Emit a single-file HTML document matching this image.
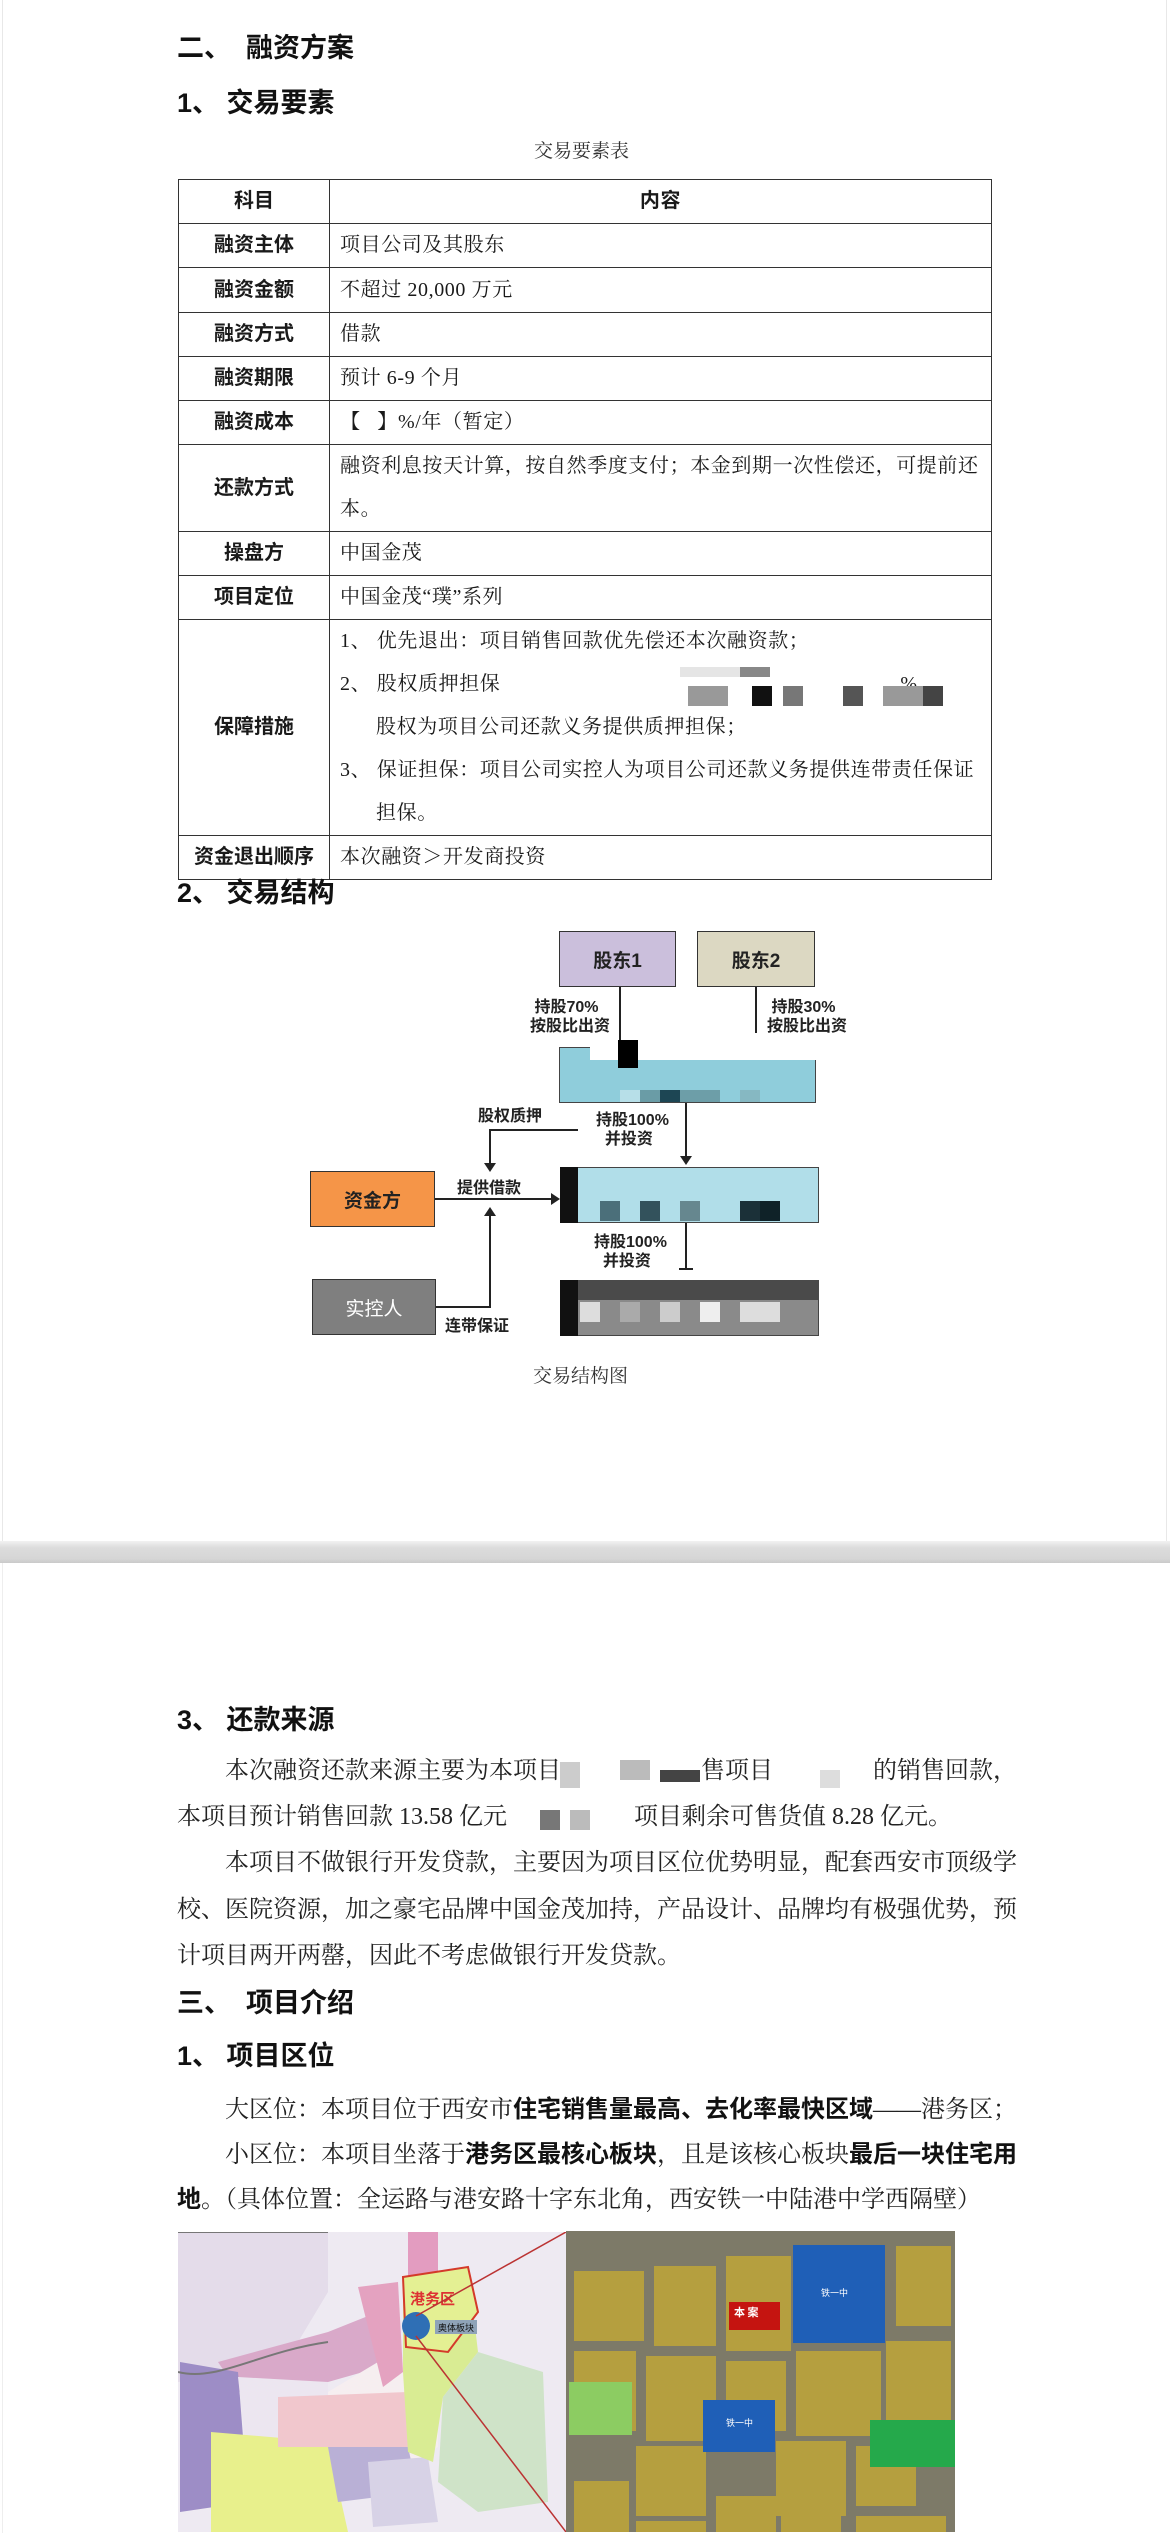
<!DOCTYPE html>
<html><head><meta charset="utf-8">
<style>
*{margin:0;padding:0;box-sizing:border-box}
body{width:1170px;height:2532px;position:relative;background:#fff;overflow:hidden;font-family:"Liberation Serif","Noto Serif CJK SC",serif;color:#1a1a1a}
.a{position:absolute;white-space:nowrap;line-height:32px}
.h{font-family:"Liberation Sans","Noto Sans CJK SC",sans-serif;font-weight:bold;font-size:27px;color:#111}
.p{font-size:24px;color:#222}
.p b{font-family:"Liberation Sans","Noto Sans CJK SC",sans-serif;font-weight:bold;color:#111}
table{position:absolute;left:178px;top:179px;width:814px;border-collapse:collapse}
td{border:1.6px solid #333;font-size:20px;padding:0 10px;line-height:43px;letter-spacing:0.6px;vertical-align:middle}
td.l{width:151px;text-align:center;font-family:"Liberation Sans","Noto Sans CJK SC",sans-serif;font-weight:bold;font-size:20px;padding:0;letter-spacing:0}
.d{font-family:"Liberation Sans","Noto Sans CJK SC",sans-serif;font-weight:bold;font-size:16px;color:#222;line-height:19px;position:absolute;white-space:nowrap}
.box{position:absolute;border:1.5px solid #333;display:flex;align-items:center;justify-content:center;font-family:"Liberation Sans","Noto Sans CJK SC",sans-serif;font-weight:bold;font-size:19px;color:#222}
.px{position:absolute}
</style></head><body>

<div class="a h" style="left:177px;top:32px">二、&nbsp;&nbsp;融资方案</div>
<div class="a h" style="left:177px;top:87px">1、&nbsp;交易要素</div>
<div class="a" style="left:534px;top:136px;font-size:19px;color:#333">交易要素表</div>

<table>
<tr style="height:44px"><td class="l">科目</td><td style="text-align:center;font-family:'Liberation Sans','Noto Sans CJK SC',sans-serif;font-weight:bold">内容</td></tr>
<tr style="height:43px"><td class="l">融资主体</td><td>项目公司及其股东</td></tr>
<tr style="height:45px"><td class="l">融资金额</td><td>不超过 20,000 万元</td></tr>
<tr style="height:43px"><td class="l">融资方式</td><td>借款</td></tr>
<tr style="height:44px"><td class="l">融资期限</td><td>预计 6-9 个月</td></tr>
<tr style="height:44px"><td class="l">融资成本</td><td><b>【&nbsp;&nbsp;&nbsp;】</b>%/年（暂定）</td></tr>
<tr style="height:87px"><td class="l">还款方式</td><td>融资利息按天计算，按自然季度支付；本金到期一次性偿还，可提前还本。</td></tr>
<tr style="height:44px"><td class="l">操盘方</td><td>中国金茂</td></tr>
<tr style="height:44px"><td class="l">项目定位</td><td>中国金茂“璞”系列</td></tr>
<tr style="height:215px"><td class="l">保障措施</td><td style="line-height:43px">1、&nbsp;优先退出：项目销售回款优先偿还本次融资款；<br>2、&nbsp;股权质押担保<span style="display:inline-block;width:400px"></span>%<br><span style="padding-left:36px">股权为项目公司还款义务提供质押担保；</span><br>3、&nbsp;保证担保：项目公司实控人为项目公司还款义务提供连带责任保证<br><span style="padding-left:36px">担保。</span></td></tr>
<tr style="height:43px"><td class="l">资金退出顺序</td><td>本次融资＞开发商投资</td></tr>
</table>
<!-- redaction pixels in table -->
<div class="px" style="left:680px;top:667px;width:60px;height:10px;background:#e5e5e5"></div>
<div class="px" style="left:740px;top:667px;width:30px;height:10px;background:#888"></div>
<div class="px" style="left:688px;top:686px;width:40px;height:20px;background:#999"></div>
<div class="px" style="left:752px;top:686px;width:20px;height:20px;background:#111"></div>
<div class="px" style="left:783px;top:686px;width:20px;height:20px;background:#777"></div>
<div class="px" style="left:843px;top:686px;width:20px;height:20px;background:#555"></div>
<div class="px" style="left:883px;top:686px;width:40px;height:20px;background:#999"></div>
<div class="px" style="left:923px;top:686px;width:20px;height:20px;background:#444"></div>

<div class="a h" style="left:177px;top:877px">2、&nbsp;交易结构</div>

<!-- diagram -->
<div class="box" style="left:559px;top:931px;width:117px;height:56px;background:#cbbfdc">股东1</div>
<div class="box" style="left:697px;top:931px;width:118px;height:56px;background:#dcd8c2">股东2</div>
<div class="px" style="left:619px;top:987px;width:2px;height:60px;background:#222"></div>
<div class="px" style="left:755px;top:987px;width:2px;height:46px;background:#222"></div>
<div class="d" style="left:530px;top:998px">&nbsp;持股70%<br>按股比出资</div>
<div class="d" style="left:767px;top:998px">&nbsp;持股30%<br>按股比出资</div>

<div class="box" style="left:559px;top:1047px;width:257px;height:56px;background:#8fcddb;border-color:#444"></div>
<div class="px" style="left:590px;top:1040px;width:226px;height:20px;background:#fff"></div>
<div class="px" style="left:618px;top:1040px;width:20px;height:28px;background:#000"></div>
<div class="px" style="left:620px;top:1090px;width:20px;height:12px;background:#b7dfe8"></div>
<div class="px" style="left:640px;top:1090px;width:20px;height:12px;background:#6a9ca6"></div>
<div class="px" style="left:660px;top:1090px;width:20px;height:12px;background:#1d4654"></div>
<div class="px" style="left:680px;top:1090px;width:40px;height:12px;background:#6d9ea8"></div>
<div class="px" style="left:740px;top:1090px;width:20px;height:12px;background:#86b8c2"></div>

<div class="px" style="left:685px;top:1103px;width:2px;height:55px;background:#222"></div>
<div class="px" style="left:680px;top:1156px;width:0;height:0;border-left:6px solid transparent;border-right:6px solid transparent;border-top:9px solid #222"></div>
<div class="d" style="left:596px;top:1111px">持股100%<br>&nbsp;&nbsp;并投资</div>
<div class="d" style="left:478px;top:1107px">股权质押</div>
<div class="px" style="left:489px;top:1129px;width:89px;height:2px;background:#222"></div>
<div class="px" style="left:489px;top:1129px;width:2px;height:36px;background:#222"></div>
<div class="px" style="left:484px;top:1163px;border-left:6px solid transparent;border-right:6px solid transparent;border-top:9px solid #222"></div>

<div class="box" style="left:310px;top:1171px;width:125px;height:56px;background:#f59548;color:#222">资金方</div>
<div class="px" style="left:435px;top:1198px;width:118px;height:2px;background:#222"></div>
<div class="px" style="left:551px;top:1193px;border-top:6px solid transparent;border-bottom:6px solid transparent;border-left:9px solid #222"></div>
<div class="d" style="left:457px;top:1179px">提供借款</div>

<div class="box" style="left:560px;top:1167px;width:259px;height:56px;background:#b1dee9;border-color:#444"></div>
<div class="px" style="left:560px;top:1167px;width:18px;height:56px;background:#111"></div>
<div class="px" style="left:600px;top:1201px;width:20px;height:20px;background:#4b6f7a"></div>
<div class="px" style="left:640px;top:1201px;width:20px;height:20px;background:#33525c"></div>
<div class="px" style="left:680px;top:1201px;width:20px;height:20px;background:#66878f"></div>
<div class="px" style="left:740px;top:1201px;width:20px;height:20px;background:#1b3038"></div>
<div class="px" style="left:760px;top:1201px;width:20px;height:20px;background:#0f2228"></div>

<div class="box" style="left:312px;top:1279px;width:124px;height:56px;background:#7f7f7f;color:#fff;font-weight:normal">实控人</div>
<div class="px" style="left:436px;top:1306px;width:55px;height:2px;background:#222"></div>
<div class="px" style="left:489px;top:1214px;width:2px;height:94px;background:#222"></div>
<div class="px" style="left:484px;top:1207px;border-left:6px solid transparent;border-right:6px solid transparent;border-bottom:9px solid #222"></div>
<div class="d" style="left:445px;top:1317px">连带保证</div>

<div class="px" style="left:685px;top:1223px;width:2px;height:46px;background:#222"></div>
<div class="px" style="left:679px;top:1268px;width:14px;height:2px;background:#222"></div>
<div class="d" style="left:594px;top:1233px">持股100%<br>&nbsp;&nbsp;并投资</div>

<div class="box" style="left:560px;top:1280px;width:259px;height:56px;background:#8a8a8a;border-color:#444"></div>
<div class="px" style="left:560px;top:1280px;width:18px;height:56px;background:#111"></div>
<div class="px" style="left:578px;top:1280px;width:241px;height:20px;background:#4a4a4a"></div>
<div class="px" style="left:580px;top:1302px;width:20px;height:20px;background:#ddd"></div>
<div class="px" style="left:620px;top:1302px;width:20px;height:20px;background:#aaa"></div>
<div class="px" style="left:660px;top:1302px;width:20px;height:20px;background:#ccc"></div>
<div class="px" style="left:700px;top:1302px;width:20px;height:20px;background:#eee"></div>
<div class="px" style="left:740px;top:1302px;width:40px;height:20px;background:#ddd"></div>

<div class="a" style="left:533px;top:1361px;font-size:19px;color:#333">交易结构图</div>

<!-- page break -->
<div class="px" style="left:2px;top:0;width:1px;height:1542px;background:#e8e8e8"></div>
<div class="px" style="left:1166px;top:0;width:1px;height:1542px;background:#e8e8e8"></div>
<div class="px" style="left:0;top:1541px;width:1170px;height:22px;background:linear-gradient(#f2f2f2,#dcdcdc 30%,#d6d6d6 80%,#c9c9c9)"></div>
<div class="px" style="left:2px;top:1563px;width:1px;height:970px;background:#eee"></div>

<!-- page 2 -->
<div class="a h" style="left:177px;top:1704px">3、&nbsp;还款来源</div>
<div class="a p" style="left:225px;top:1755px">本次融资还款来源主要为本项目</div>
<div class="px" style="left:560px;top:1762px;width:20px;height:26px;background:#ccc"></div>
<div class="px" style="left:620px;top:1760px;width:30px;height:20px;background:#bbb"></div>
<div class="px" style="left:660px;top:1770px;width:40px;height:12px;background:#444"></div>
<div class="a p" style="left:701px;top:1755px">售项目</div>
<div class="px" style="left:820px;top:1770px;width:20px;height:18px;background:#ddd"></div>
<div class="a p" style="left:873px;top:1755px">的销售回款，</div>
<div class="a p" style="left:177px;top:1801px">本项目预计销售回款 13.58 亿元</div>
<div class="px" style="left:540px;top:1810px;width:20px;height:20px;background:#777"></div>
<div class="px" style="left:570px;top:1810px;width:20px;height:20px;background:#bbb"></div>
<div class="a p" style="left:634px;top:1801px">项目剩余可售货值 8.28 亿元。</div>
<div class="a p" style="left:225px;top:1847px">本项目不做银行开发贷款，主要因为项目区位优势明显，配套西安市顶级学</div>
<div class="a p" style="left:177px;top:1894px">校、医院资源，加之豪宅品牌中国金茂加持，产品设计、品牌均有极强优势，预</div>
<div class="a p" style="left:177px;top:1940px">计项目两开两罄，因此不考虑做银行开发贷款。</div>
<div class="a h" style="left:177px;top:1987px">三、&nbsp;&nbsp;项目介绍</div>
<div class="a h" style="left:177px;top:2040px">1、&nbsp;项目区位</div>
<div class="a p" style="left:225px;top:2094px">大区位：本项目位于西安市<b>住宅销售量最高、去化率最快区域</b>——港务区；</div>
<div class="a p" style="left:225px;top:2139px">小区位：本项目坐落于<b>港务区最核心板块</b>，且是该核心板块<b>最后一块住宅用</b></div>
<div class="a p" style="left:177px;top:2184px"><b>地</b>。（具体位置：全运路与港安路十字东北角，西安铁一中陆港中学西隔壁）</div>

<!-- left map -->
<svg class="px" style="left:178px;top:2232px" width="388" height="300" viewBox="0 0 388 300">
<rect width="388" height="300" fill="#eeeaf2"/>
<path d="M0 0 H150 V60 L120 110 L60 140 L0 150Z" fill="#e4dcea"/>
<path d="M40 130 L150 100 L200 80 L220 130 L150 150 L60 160Z" fill="#d9a9c9"/>
<rect x="230" y="0" width="30" height="60" fill="#e39cc0"/>
<path d="M200 130 L260 120 L260 215 L220 240 L150 215 L150 160Z" fill="#f6eef0"/>
<path d="M180 55 L220 50 L225 140 L205 155Z" fill="#e4a2c0"/>
<path d="M2 130 L60 140 L70 270 L2 280Z" fill="#9d8dc6"/>
<path d="M60 145 L150 150 L150 220 L70 235Z" fill="#ece6f0"/>
<path d="M33 200 L150 210 L170 300 L33 300Z" fill="#e8f08c"/>
<path d="M100 165 L230 160 L230 215 L100 215Z" fill="#f1c7cd"/>
<path d="M150 215 L230 215 L240 260 L160 270Z" fill="#b9b0d6"/>
<path d="M190 230 L250 225 L260 290 L195 295Z" fill="#d7d2e6"/>
<path d="M225 45 L290 35 L300 120 L265 165 L255 230 L230 220 L225 140Z" fill="#d9ec93"/>
<path d="M265 165 L300 120 L365 140 L370 270 L300 280 L260 250Z" fill="#cfe3c8"/>
<path d="M225 45 L290 35 L300 80 L270 120 L228 115Z" fill="#e4f093" stroke="#d43a2a" stroke-width="2"/>
<text x="232" y="72" font-family="Liberation Sans,Noto Sans CJK SC,sans-serif" font-size="15" font-weight="bold" fill="#d33">港务区</text>
<circle cx="238" cy="94" r="14" fill="#2f6fb5"/>
<rect x="257" y="88" width="42" height="14" fill="#8fa3b8"/>
<text x="260" y="99" font-size="9" fill="#111" font-family="Noto Sans CJK SC,sans-serif">奥体板块</text>
<path d="M0 0 L150 0 M0 140 C40 150 80 120 150 110" stroke="#777" stroke-width="2" fill="none"/>
<line x1="238" y1="84" x2="388" y2="0" stroke="#b33" stroke-width="1.5"/>
<line x1="238" y1="104" x2="388" y2="300" stroke="#b33" stroke-width="1.5"/>
</svg>

<!-- right satellite -->
<svg class="px" style="left:566px;top:2231px" width="389" height="301" viewBox="0 0 389 301">
<rect width="389" height="301" fill="#7d7a68"/>
<g fill="#b59f3f">
<rect x="8" y="40" width="70" height="70"/><rect x="88" y="35" width="62" height="80"/><rect x="160" y="25" width="65" height="95"/><rect x="330" y="15" width="55" height="80"/>
<rect x="8" y="120" width="62" height="80"/><rect x="80" y="125" width="70" height="85"/><rect x="160" y="130" width="60" height="70"/><rect x="230" y="120" width="85" height="85"/><rect x="320" y="110" width="65" height="90"/>
<rect x="70" y="215" width="70" height="70"/><rect x="210" y="210" width="70" height="75"/><rect x="290" y="215" width="60" height="60"/>
<rect x="8" y="250" width="55" height="51"/><rect x="70" y="290" width="70" height="11"/><rect x="150" y="265" width="60" height="36"/><rect x="215" y="285" width="60" height="16"/><rect x="290" y="285" width="90" height="16"/>
</g>
<rect x="227" y="14" width="92" height="98" fill="#1f5fb7"/>
<rect x="163" y="71" width="51" height="28" fill="#c51410"/>
<rect x="137" y="169" width="72" height="52" fill="#1f5fb7"/>
<rect x="3" y="151" width="63" height="53" fill="#8ccc62"/>
<rect x="304" y="189" width="85" height="47" fill="#25a94b"/>
<text x="168" y="85" font-size="11" font-weight="bold" fill="#fff" font-family="Noto Sans CJK SC,sans-serif">本 案</text>
<text x="255" y="65" font-size="9" fill="#fff" font-family="Noto Sans CJK SC,sans-serif">铁一中</text>
<text x="160" y="195" font-size="9" fill="#fff" font-family="Noto Sans CJK SC,sans-serif">铁一中</text>
</svg>

</body></html>
